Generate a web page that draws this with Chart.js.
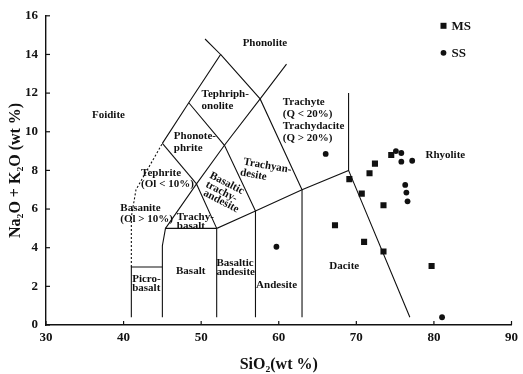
<!DOCTYPE html>
<html>
<head>
<meta charset="utf-8">
<script src="https://cdn.jsdelivr.net/npm/chart.js@4/dist/chart.umd.min.js"></script>
<style>
  html, body { margin: 0; padding: 0; background: #fff; }
  canvas { display: block; }
</style>
</head>
<body>
<canvas id="tasChart" width="523" height="374"></canvas>
<script>
// Samples (SiO2 wt %, Na2O + K2O wt %)
const msSiO2 = [67.25, 69.1, 70.7, 71.7, 72.4, 73.5, 71.0, 73.5, 79.7, 74.5];
const msAlk = [5.16, 7.55, 6.8, 7.85, 8.35, 6.2, 4.3, 3.8, 3.05, 8.8];
const ssSiO2 = [59.7, 66.05, 75.1, 75.8, 75.8, 77.2, 76.3, 76.45, 76.6, 81.05];
const ssAlk = [4.05, 8.85, 9.0, 8.9, 8.45, 8.5, 7.25, 6.85, 6.4, 0.4];

const xTicks = [30, 40, 50, 60, 70, 80, 90];
const yTicks = [0, 2, 4, 6, 8, 10, 12, 14, 16];

// TAS field boundaries, as [SiO2, alkali] vertices
const solidBoundaries = [
  [[41, 0.4], [41, 3], [45, 3]],
  [[45, 0.4], [45, 4.1], [45.4, 5], [52, 5]],
  [[52, 0.4], [52, 5], [57, 5.9], [63, 7], [69, 8], [76.9, 0.4]],
  [[57, 0.4], [57, 5.9]],
  [[63, 0.4], [63, 7]],
  [[69, 8], [69, 12]],
  [[45.4, 5], [49.4, 7.3], [52, 5]],
  [[49.4, 7.3], [53, 9.3], [57.6, 11.7], [61, 13.5]],
  [[45, 9.4], [49.4, 7.3]],
  [[45, 9.4], [48.4, 11.5], [52.5, 14], [50.5, 14.8]],
  [[48.4, 11.5], [53, 9.3], [57, 5.9]],
  [[52.5, 14], [57.6, 11.7], [63, 7]]
];
const dashedBoundaries = [
  [[41, 3], [41, 5.6], [41.6, 7], [45, 9.4]]
];

// field names, anchored in data units
const fieldLabels = [
  { lines: ["Foidite"], x: 38.05, y: 10.85, align: "center" },
  { lines: ["Phonolite"], x: 58.22, y: 14.56, align: "center" },
  { lines: ["Tephriph-", "onolite"], x: 50.05, y: 11.93, align: "left" },
  { lines: ["Phonote-", "phrite"], x: 46.48, y: 9.77, align: "left" },
  { lines: ["Tephrite", "(Ol < 10%)"], x: 42.26, y: 7.87, align: "left" },
  { lines: ["Basanite", "(Ol > 10%)"], x: 39.58, y: 6.07, align: "left" },
  { lines: ["Trachy-", "basalt"], x: 46.86, y: 5.56, align: "left", gap: 8.5 },
  { lines: ["Basalt"], x: 48.65, y: 2.78, align: "center" },
  { lines: ["Picro-", "basalt"], x: 41.11, y: 2.37, align: "left", gap: 8.5 },
  { lines: ["Basaltic", "andesite"], x: 51.97, y: 3.19, align: "left", gap: 8.5 },
  { lines: ["Andesite"], x: 57.08, y: 2.06, align: "left" },
  { lines: ["Dacite"], x: 68.44, y: 3.03, align: "center" },
  { lines: ["Rhyolite"], x: 81.47, y: 8.8, align: "center" },
  { lines: ["Trachyte", "(Q < 20%)", "Trachydacite", "(Q > 20%)"], x: 60.52, y: 11.52, align: "left", gap: 12 },
  { lines: ["Trachyan-"], x: 58.54, y: 8.23, align: "center", rot: 10 },
  { lines: ["desite"], x: 56.73, y: 7.77, align: "center", rot: 10 },
  { lines: ["Basaltic"], x: 53.31, y: 7.33, align: "center", rot: 27 },
  { lines: ["trachy-"], x: 52.61, y: 6.9, align: "center", rot: 27 },
  { lines: ["andesite"], x: 52.57, y: 6.4, align: "center", rot: 27 }
];

const serif = "'Liberation Serif', 'DejaVu Serif', serif";
const ink = "#111";

const toPoints = (xs, ys) => xs.map((v, i) => ({ x: v, y: ys[i] }));

const boundaryDatasets = [
  ...solidBoundaries.map(line => ({
    data: line.map(p => ({ x: p[0], y: p[1] })),
    showLine: true,
    borderColor: ink,
    borderWidth: 1.1,
    pointRadius: 0,
    label: ""
  })),
  ...dashedBoundaries.map(line => ({
    data: line.map(p => ({ x: p[0], y: p[1] })),
    showLine: true,
    borderColor: ink,
    borderWidth: 1.1,
    borderDash: [2, 2],
    pointRadius: 0,
    label: ""
  }))
];

const tasPlugin = {
  id: "tasDecor",
  afterDraw(chart) {
    const { ctx, chartArea, scales: { x, y } } = chart;
    ctx.save();

    // short inward ticks
    ctx.strokeStyle = ink;
    ctx.lineWidth = 1.2;
    xTicks.forEach(v => {
      const px = x.getPixelForValue(v);
      ctx.beginPath();
      ctx.moveTo(px, chartArea.bottom);
      ctx.lineTo(px, chartArea.bottom - 4);
      ctx.stroke();
    });
    yTicks.forEach(v => {
      const py = y.getPixelForValue(v);
      ctx.beginPath();
      ctx.moveTo(chartArea.left, py);
      ctx.lineTo(chartArea.left + 4, py);
      ctx.stroke();
    });

    // field names
    ctx.fillStyle = ink;
    ctx.font = "bold 11px " + serif;
    ctx.textBaseline = "middle";
    fieldLabels.forEach(l => {
      const px = x.getPixelForValue(l.x);
      const py = y.getPixelForValue(l.y);
      const gap = l.gap || 11.5;
      ctx.save();
      ctx.translate(px, py);
      if (l.rot) ctx.rotate(l.rot * Math.PI / 180);
      ctx.textAlign = l.align;
      l.lines.forEach((t, i) => ctx.fillText(t, 0, i * gap));
      ctx.restore();
    });

    // legend
    const lx = chartArea.right - 68;
    const ly = chartArea.top + 10;
    ctx.font = "bold 13px " + serif;
    ctx.textAlign = "left";
    ctx.fillRect(lx - 3, ly - 3, 6, 6);
    ctx.fillText("MS", lx + 8, ly + 1);
    ctx.beginPath();
    ctx.arc(lx, ly + 27, 2.9, 0, Math.PI * 2);
    ctx.fill();
    ctx.fillText("SS", lx + 8, ly + 28);

    ctx.restore();
  }
};

new Chart(document.getElementById("tasChart").getContext("2d"), {
  type: "scatter",
  data: {
    datasets: [
      ...boundaryDatasets,
      {
        label: "MS",
        data: toPoints(msSiO2, msAlk),
        pointStyle: "rect",
        pointRadius: 4.3,
        backgroundColor: ink,
        borderColor: ink,
        borderWidth: 0
      },
      {
        label: "SS",
        data: toPoints(ssSiO2, ssAlk),
        pointStyle: "circle",
        pointRadius: 2.9,
        backgroundColor: ink,
        borderColor: ink,
        borderWidth: 0
      }
    ]
  },
  options: {
    responsive: false,
    animation: false,
    layout: { padding: { top: 14, right: 6, left: 0, bottom: 0 } },
    plugins: {
      legend: { display: false },
      tooltip: { enabled: false }
    },
    scales: {
      x: {
        type: "linear",
        min: 30,
        max: 90,
        afterBuildTicks: s => { s.ticks = xTicks.map(v => ({ value: v })); },
        afterFit: s => { s.height = 49; },
        grid: { display: false, drawTicks: false },
        border: { display: true, color: ink, width: 1.4 },
        ticks: {
          color: ink,
          padding: 5,
          font: { family: serif, size: 13, weight: "bold" }
        },
        title: {
          display: true,
          text: "SiO\u2082(wt %)",
          color: ink,
          padding: { top: 0, bottom: 0 },
          font: { family: serif, size: 16, weight: "bold", lineHeight: 1.2 }
        }
      },
      y: {
        type: "linear",
        min: 0,
        max: 16,
        afterBuildTicks: s => { s.ticks = yTicks.map(v => ({ value: v })); },
        afterFit: s => { s.width = 46; },
        grid: { display: false, drawTicks: false },
        border: { display: true, color: ink, width: 1.4 },
        ticks: {
          color: ink,
          padding: 8,
          font: { family: serif, size: 13, weight: "bold" }
        },
        title: {
          display: true,
          text: "Na\u2082O + K\u2082O (wt %)",
          color: ink,
          padding: { top: 6, bottom: 0 },
          font: { family: serif, size: 16, weight: "bold", lineHeight: 1.2 }
        }
      }
    }
  },
  plugins: [tasPlugin]
});
</script>
</body>
</html>
